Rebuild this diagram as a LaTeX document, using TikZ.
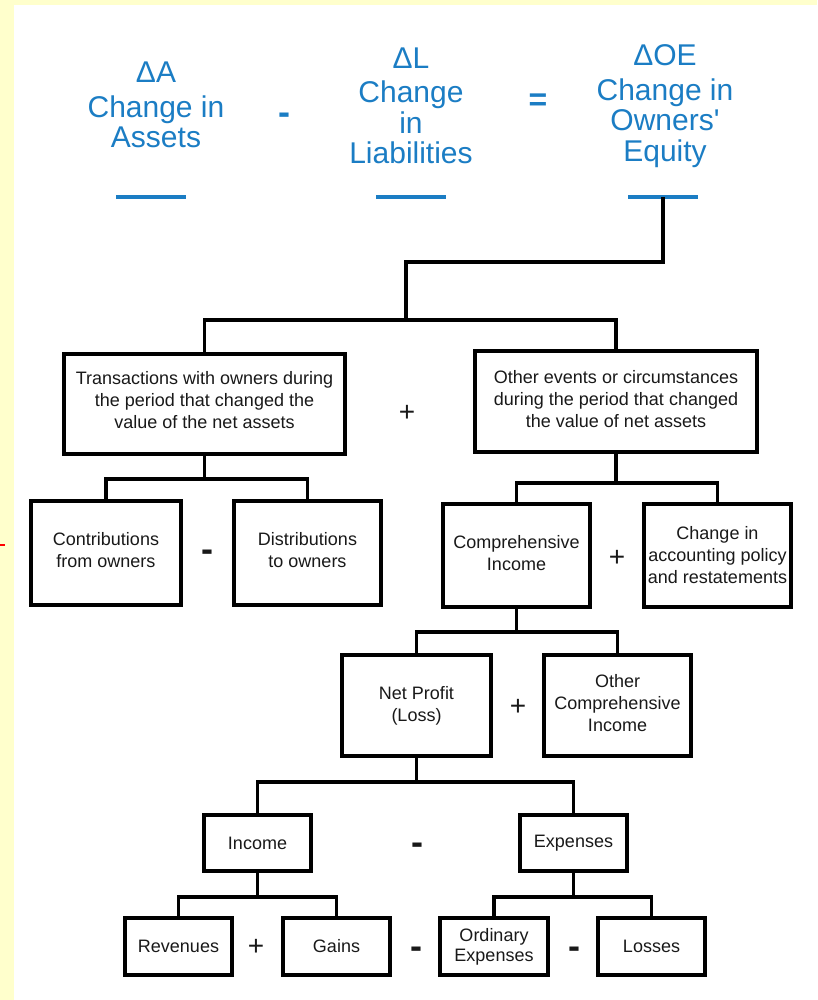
\documentclass[tikz,border=0pt]{standalone}
\usepackage{fontspec}
\setmainfont{Liberation Sans}[Ligatures=TeXOff]
\usetikzlibrary{calc}
\definecolor{eqblue}{RGB}{27,125,196}
\definecolor{pagey}{RGB}{255,255,204}
\definecolor{ink}{RGB}{25,25,25}
\begin{document}
\begin{tikzpicture}[x=1pt,y=-1pt,
  box/.style={draw=black, line width=3.6pt, fill=white, align=center, text=ink,
    inner sep=0pt, font=\fontsize{18}{22}\selectfont},
  sized/.style 2 args={minimum width=#1pt, minimum height=#2pt},
  conn/.style={draw=black, line width=3.6pt, line join=miter},
  eqlabel/.style={text=eqblue, align=center, anchor=north, inner sep=0pt,
    font=\fontsize{30}{30.5}\selectfont},
  eqbar/.style={draw=eqblue, line width=4pt},
  eqop/.style={text=eqblue, inner sep=0pt, font=\fontsize{36}{36}\selectfont\bfseries},
  plusop/.style={text=ink, inner sep=0pt, font=\fontsize{28}{28}\selectfont},
  minusop/.style={text=ink, inner sep=0pt, yshift=-6pt, font=\fontsize{36}{36}\selectfont\bfseries},
]
% page and frame bands
\useasboundingbox (0,0) rectangle (817,1000);
\fill[white] (0,0) rectangle (817,1000);
\fill[pagey] (0,0) rectangle (817,5);
\fill[pagey] (0,0) rectangle (14,1000);
\draw[red, line width=1.2pt] (0,545) -- (5,545);

% accounting equation
\node[eqlabel] (da) at (156,62) {ΔA\\[4pt]Change in\\Assets};
\node[eqlabel] (dl) at (411,47.5) {ΔL\\[4pt]Change\\in\\Liabilities};
\node[eqlabel] (doe) at (665,44.5) {ΔOE\\[4pt]Change in\\Owners'\\Equity};
\node[eqop, yshift=-6pt] (minusAL) at (284,113) {-};
\node[eqop, font=\fontsize{32}{32}\selectfont\bfseries] (equals) at (538,102) {=};

\coordinate (abar) at (151,197);
\coordinate (lbar) at (411,197);
\coordinate (oebar) at (663,197);
\draw[eqbar] ($(abar)+(-35,0)$) -- ($(abar)+(35,0)$);
\draw[eqbar] ($(lbar)+(-35,0)$) -- ($(lbar)+(35,0)$);
\draw[eqbar] ($(oebar)+(-35,0)$) -- ($(oebar)+(35,0)$);

% level 1
\node[box, sized={281.4}{100.4}] (t1) at (204.5,404)
  {Transactions with owners during\\the period that changed the\\value of the net assets\\[-14pt]};
\node[box, sized={282.4}{101.4}] (t2) at (616,401.5)
  {Other events or circumstances\\during the period that changed\\the value of net assets\\[-16pt]};
\node[plusop] (p1) at (407,413) {+};

% level 2
\node[box, sized={150.4}{104.4}] (contrib) at (106,553) {Contributions\\from owners\\[-16pt]};
\node[box, sized={147.4}{104.4}] (distrib) at (307.5,553) {Distributions\\to owners\\[-16pt]};
\node[minusop] (m1) at (207,550) {-};
\node[box, sized={147.4}{103.4}] (ci) at (516.5,555.5) {Comprehensive\\Income\\[-17pt]};
\node[box, sized={147.4}{103.4}] (cap) at (717.5,555.5) {Change in\\accounting policy\\and restatements};
\node[plusop] (p2) at (617,558) {+};

% level 3
\node[box, sized={149.4}{101.4}] (np) at (416.5,705.5) {Net Profit\\(Loss)};
\node[box, sized={147.4}{101.4}] (oci) at (617.5,705.5) {Other\\Comprehensive\\Income\\[-16pt]};
\node[plusop] (p3) at (518,707) {+};

% level 4
\node[box, sized={107.4}{56.4}] (inc) at (257.5,843) {Income};
\node[box, sized={107.4}{56.4}] (exp) at (573.5,843) {Expenses};
\node[minusop] (m2) at (417,843) {-};

% level 5
\node[box, sized={107.4}{57.4}] (rev) at (178.5,946.5) {Revenues};
\node[box, sized={107.4}{57.4}] (gain) at (336.5,946.5) {Gains};
\node[box, sized={108.4}{57.4}] (oexp) at (494,946.5) {Ordinary\\[-2pt]Expenses};
\node[box, sized={107.4}{57.4}] (loss) at (651.5,946.5) {Losses};
\node[plusop] (p4) at (256,947) {+};
\node[minusop] (m3) at (416,947) {-};
\node[minusop] (m4) at (574,947) {-};

% connectors
\coordinate (k1) at (406,262);
\coordinate (k2) at (406,320);
\draw[conn] (oebar) |- (k1) -- (k2);
\draw[conn] (t1.north) |- (k2) -| (t2.north);

\path (t1.south) ++(0,23) coordinate (j1);
\draw[conn] (t1.south) -- (j1);
\draw[conn] (contrib.north) |- (j1) -| (distrib.north);

\path (t2.south) ++(0,29) coordinate (j2);
\draw[conn] (t2.south) -- (j2);
\draw[conn] (ci.north) |- (j2) -| (cap.north);

\path (ci.south) ++(0,23) coordinate (j3);
\draw[conn] (ci.south) -- (j3);
\draw[conn] (np.north) |- (j3) -| (oci.north);

\path (np.south) ++(0,24) coordinate (j4);
\draw[conn] (np.south) -- (j4);
\draw[conn] (inc.north) |- (j4) -| (exp.north);

\path (inc.south) ++(0,24) coordinate (j5);
\draw[conn] (inc.south) -- (j5);
\draw[conn] (rev.north) |- (j5) -| (gain.north);

\path (exp.south) ++(0,24) coordinate (j6);
\draw[conn] (exp.south) -- (j6);
\draw[conn] (oexp.north) |- (j6) -| (loss.north);
\end{tikzpicture}
\end{document}
